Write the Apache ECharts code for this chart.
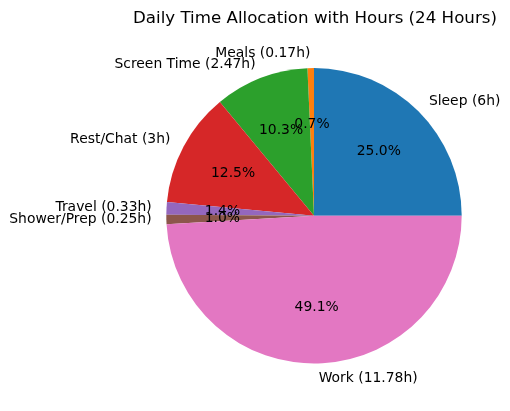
<!DOCTYPE html>
<html>
<head>
<meta charset="utf-8">
<script src="https://cdn.jsdelivr.net/npm/echarts@6/dist/echarts.min.js"></script>
<style>
html,body{margin:0;padding:0;background:#fff;}
#c{width:510px;height:411px;}
</style>
</head>
<body>
<div id="c"></div>
<script>
const categories = ['Sleep', 'Meals', 'Screen Time', 'Rest/Chat', 'Travel', 'Shower/Prep', 'Work'];
const hours = [6, 0.17, 2.47, 3, 0.33, 0.25, 11.78];
const colors = ['#1f77b4', '#ff7f0e', '#2ca02c', '#d62728', '#9467bd', '#8c564b', '#e377c2'];
const titleText = 'Daily Time Allocation with Hours (24 Hours)';

const total = hours.reduce((a, b) => a + b, 0);
const CX = 314, CY = 215.8, R = 147.7;
const FONT = 'DejaVu Sans';

const baseData = categories.map((name, i) => ({ name: name, value: hours[i], itemStyle: { color: colors[i] } }));

const chart = echarts.init(document.getElementById('c'), null, { renderer: 'canvas' });
chart.setOption({
  backgroundColor: '#ffffff',
  animation: false,
  title: {
    text: titleText,
    left: 133,
    top: 10,
    padding: 0,
    textStyle: { fontFamily: FONT, fontSize: 16.67, fontWeight: 'normal', color: '#000' }
  },
  series: [
    {
      type: 'pie',
      center: [CX, CY],
      radius: [0, R],
      startAngle: 0,
      clockwise: false,
      avoidLabelOverlap: false,
      silent: true,
      emphasis: { disabled: true },
      itemStyle: { borderWidth: 0 },
      labelLayout: { hideOverlap: false },
      label: {
        show: true,
        position: 'outside',
        fontFamily: FONT,
        fontSize: 13.9,
        color: '#000',
        distanceToLabelLine: 0,
        formatter: p => p.name + ' (' + p.value + 'h)'
      },
      labelLine: { show: false, length: R * 0.1, length2: 0 },
      data: baseData
    },
    {
      type: 'pie',
      center: [CX, CY],
      radius: [0, R * 1.2],
      startAngle: 0,
      clockwise: false,
      avoidLabelOverlap: false,
      silent: true,
      z: 5,
      emphasis: { disabled: true },
      itemStyle: { color: 'rgba(0,0,0,0)', borderWidth: 0 },
      labelLayout: { hideOverlap: false },
      label: {
        show: true,
        position: 'inside',
        fontFamily: FONT,
        fontSize: 13.9,
        color: '#000',
        formatter: p => (p.value / total * 100).toFixed(1) + '%'
      },
      labelLine: { show: false },
      data: categories.map((name, i) => ({ name: name, value: hours[i] }))
    }
  ]
});
</script>
</body>
</html>
